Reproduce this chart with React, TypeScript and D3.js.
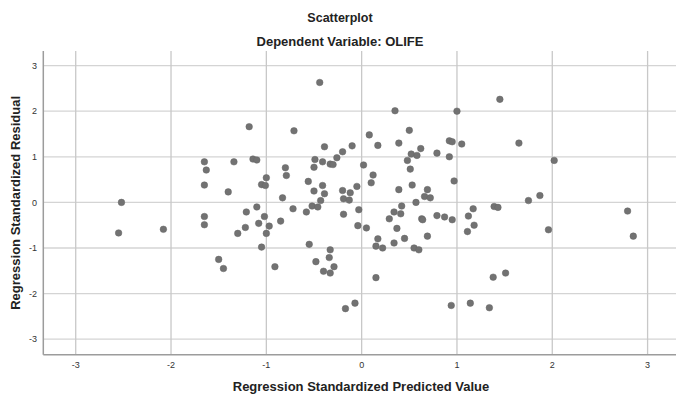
import React from "react";
import * as d3 from "d3";

const predicted = [
  -2.52, -2.55, -2.08, -1.65, -1.63, -1.65, -1.65, -1.65, -1.5, -1.45,
  -1.4, -1.34, -1.3, -1.22, -1.21, -1.18, -1.14, -1.1, -1.1, -1.08,
  -1.05, -1.05, -1.01, -1.0, -1.02, -0.97, -1.0, -0.91, -0.85, -0.83,
  -0.8, -0.79, -0.72, -0.71, -0.58, -0.56, -0.55, -0.52, -0.46, -0.5,
  -0.49, -0.5, -0.48, -0.44, -0.43, -0.41, -0.41, -0.39, -0.39, -0.4,
  -0.34, -0.33, -0.33, -0.3, -0.33, -0.29, -0.26, -0.2, -0.2, -0.19,
  -0.19, -0.17, -0.13, -0.12, -0.1, -0.07, -0.05, -0.04, -0.03, 0.02,
  0.05, 0.08, 0.1, 0.12, 0.15, 0.15, 0.17, 0.17, 0.22, 0.29,
  0.34, 0.34, 0.35, 0.37, 0.39, 0.39, 0.42, 0.41, 0.45, 0.48,
  0.5, 0.51, 0.52, 0.53, 0.55, 0.57, 0.58, 0.6, 0.62, 0.63,
  0.64, 0.66, 0.69, 0.69, 0.72, 0.79, 0.79, 0.87, 0.92, 0.92,
  0.95, 0.94, 0.95, 0.97, 1.0, 1.05, 1.11, 1.12, 1.14, 1.17,
  1.18, 1.34, 1.38, 1.39, 1.43, 1.45, 1.51, 1.65, 1.75, 1.87,
  1.96, 2.02, 2.79, 2.85,
];

const residual = [
  0.0, -0.67, -0.59, 0.89, 0.71, 0.38, -0.31, -0.49, -1.25, -1.45,
  0.23, 0.89, -0.68, -0.55, -0.21, 1.66, 0.95, 0.93, -0.1, -0.46,
  -0.98, 0.39, 0.37, 0.54, -0.31, -0.52, -0.68, -1.41, -0.41, 0.1,
  0.76, 0.59, -0.14, 1.57, -0.21, 0.46, -0.92, -0.08, -0.1, 0.77,
  0.94, 0.25, -1.3, 2.63, 0.04, 0.89, 0.37, 1.22, 0.19, -1.51,
  -1.21, -1.04, 0.84, 0.83, -1.55, -1.41, 0.98, 1.11, 0.26, -0.26,
  0.08, -2.33, 0.05, 0.21, 1.24, -2.21, 0.35, -0.51, -0.16, 0.82,
  -0.56, 1.48, 0.43, 0.6, -1.65, -0.96, -0.8, 1.25, -1.0, -0.36,
  -0.21, -0.89, 2.01, -0.57, 1.3, 0.28, -0.08, -0.25, -0.79, 0.92,
  1.58, 0.73, 1.06, 0.38, -1.0, 0.0, 1.03, -1.04, 1.18, -0.36,
  -0.38, 0.13, 0.28, -0.74, 0.1, 1.08, -0.29, -0.32, 1.0, 1.35,
  1.33, -2.26, -0.38, 0.47, 2.0, 1.28, -0.64, -0.3, -2.21, -0.14,
  -0.5, -2.31, -1.64, -0.09, -0.11, 2.26, -1.55, 1.3, 0.04, 0.15,
  -0.6, 0.92, -0.19, -0.74,
];

const tickValues = [-3, -2, -1, 0, 1, 2, 3];

const W = 676;
const H = 403;
const left = 43.3;
const right = 680;
const top = 51;
const bottom = 354.7;

const FONT = "'Liberation Sans', Arial, sans-serif";

export default function App() {
  const x = d3.scaleLinear().domain([-3.34, 3.34]).range([left, right]);
  const y = d3.scaleLinear().domain([-3.34, 3.32]).range([bottom, top]);
  const pts = d3.zip(predicted, residual);

  return (
    <div style={{ position: "absolute", left: 0, top: 0 }}>
      <svg width={W} height={H} style={{ display: "block", background: "#fff" }}>
        <g>
          {tickValues.map((t) => (
            <line
              key={"h" + t}
              x1={left}
              x2={right}
              y1={y(t)}
              y2={y(t)}
              stroke="#d4d4d4"
              strokeWidth={1.3}
            />
          ))}
          {tickValues.map((t) => (
            <line
              key={"v" + t}
              x1={x(t)}
              x2={x(t)}
              y1={top}
              y2={bottom}
              stroke="#c8c8c8"
              strokeWidth={1.3}
            />
          ))}
        </g>
        <line x1={left} x2={left} y1={top} y2={bottom} stroke="#9c9c9c" strokeWidth={1.5} />
        <line x1={left} x2={right} y1={bottom} y2={bottom} stroke="#9c9c9c" strokeWidth={1.5} />
        <g>
          {pts.map(([px, py], i) => (
            <circle
              key={i}
              cx={x(px)}
              cy={y(py)}
              r={3.3}
              fill="#727272"
              stroke="#666"
              strokeWidth={0.5}
            />
          ))}
        </g>
        <g fontFamily={FONT} fontSize={9} fill="#333">
          {tickValues.map((t) => (
            <text key={"yl" + t} x={37} y={y(t)} dy="0.35em" textAnchor="end">
              {t}
            </text>
          ))}
          {tickValues.map((t) => (
            <text key={"xl" + t} x={x(t)} y={368} textAnchor="middle">
              {t}
            </text>
          ))}
        </g>
        <g fontFamily={FONT} fontWeight="bold" fill="#222">
          <text x={340} y={22} fontSize={12.5} textAnchor="middle">
            Scatterplot
          </text>
          <text x={340} y={46} fontSize={13} textAnchor="middle">
            Dependent Variable: OLIFE
          </text>
          <text x={361} y={391} fontSize={13} textAnchor="middle">
            Regression Standardized Predicted Value
          </text>
          <text
            transform={`translate(19.5, ${(top + bottom) / 2}) rotate(-90)`}
            fontSize={13}
            textAnchor="middle"
          >
            Regression Standardized Residual
          </text>
        </g>
      </svg>
    </div>
  );
}
